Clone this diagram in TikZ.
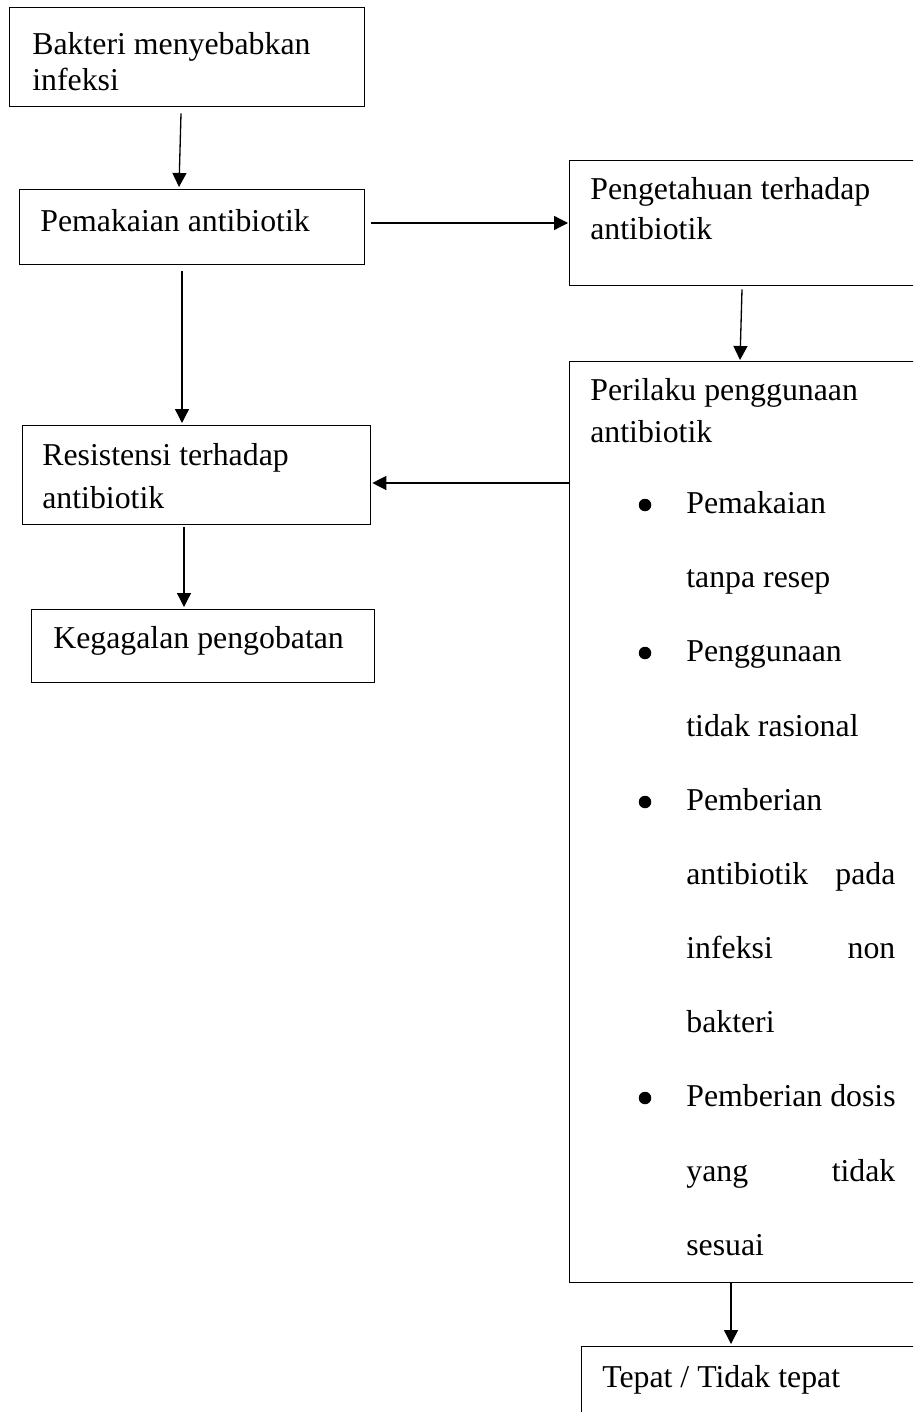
\documentclass[tikz,border=0pt]{standalone}
\usepackage{fontspec}
\setmainfont{Liberation Serif}
\usetikzlibrary{calc,arrows.meta}
\newlength\pxl
\setlength\pxl{0.02cm}
\newcommand{\jus}[2]{\hbox to 209\pxl{#1\hfill #2}}
\tikzset{
  kotak/.style={draw, line width=0.75pt, inner sep=0pt, anchor=north west},
  teks/.style={inner sep=0pt, anchor=base west, font=\fontsize{18.1pt}{24pt}\selectfont},
  titik/.style={circle, fill, inner sep=0pt, minimum size=12.5\pxl},
  panah/.style={line width=0.75pt, -{Triangle[length=0.28cm,width=0.28cm]}},
}
\begin{document}
\begin{tikzpicture}[x=\pxl, y=-\pxl]
  \useasboundingbox (0,0) rectangle (913,1412);
  \clip (0,0) rectangle (913,1412);
  % kotak kiri
  \node[kotak, minimum width=355\pxl, minimum height=99\pxl] (bakteri) at (9,7) {};
  \node[teks] (t1) at (32,55) {Bakteri menyebabkan};
  \node[teks] (t2) at (32,91) {infeksi};
  \node[kotak, minimum width=345\pxl, minimum height=75\pxl] (pemakaian) at (19,189) {};
  \node[teks] (t3) at (40,232) {Pemakaian antibiotik};
  \node[kotak, minimum width=348\pxl, minimum height=99\pxl] (resistensi) at (22,425) {};
  \node[teks] (t4) at (42,465) {Resistensi terhadap};
  \node[teks] (t5) at (42,508) {antibiotik};
  \node[kotak, minimum width=343\pxl, minimum height=73\pxl] (kegagalan) at (31,609) {};
  \node[teks] (t6) at (53,648) {Kegagalan pengobatan};
  % kotak kanan
  \node[kotak, minimum width=400\pxl, minimum height=125\pxl] (pengetahuan) at (569,160) {};
  \node[teks] (t7) at (590,200) {Pengetahuan terhadap};
  \node[teks] (t8) at (590,240) {antibiotik};
  \node[kotak, minimum width=400\pxl, minimum height=921\pxl] (perilaku) at (569,361) {};
  \node[teks] (t9) at (590,400) {Perilaku penggunaan};
  \node[teks] (t10) at (590,442) {antibiotik};
  \foreach \yy in {513,661,810,1106}
    \node[titik] (b\yy) at (645,\yy-8) {};
  \foreach \yy/\isi in {513/Pemakaian, 587/tanpa resep, 661/Penggunaan, 736/tidak rasional,
      810/Pemberian, 884/{\jus{antibiotik}{pada}}, 958/{\jus{infeksi}{non}}, 1032/bakteri,
      1106/Pemberian dosis, 1181/{\jus{yang}{tidak}}, 1255/sesuai}
    \node[teks] (p\yy) at (686,\yy) {\isi};
  \node[kotak, minimum width=400\pxl, minimum height=120\pxl] (tepat) at (581,1346) {};
  \node[teks] (t11) at (602,1387) {Tepat / Tidak tepat};
  % panah
  \draw[panah] ($(bakteri.south west)+(172,6)$) -- ($(pemakaian.north west)+(160,-2)$);
  \draw[panah] ($(pemakaian.north east)+(6,34)$) -- ($(pengetahuan.north west)+(-1,63)$);
  \draw[panah] ($(pemakaian.south west)+(163,6)$) -- ($(resistensi.north west)+(160,-2)$);
  \draw[panah] ($(pengetahuan.south west)+(173,3)$) -- ($(perilaku.north west)+(171,-1)$);
  \draw[panah] ($(perilaku.north west)+(0,122)$) -- ($(resistensi.north east)+(1,58)$);
  \draw[panah] ($(resistensi.south west)+(162,2)$) -- ($(kegagalan.north west)+(153,-2)$);
  \draw[panah] ($(perilaku.south west)+(162,0)$) -- ($(tepat.north west)+(150,-2)$);
\end{tikzpicture}
\end{document}
